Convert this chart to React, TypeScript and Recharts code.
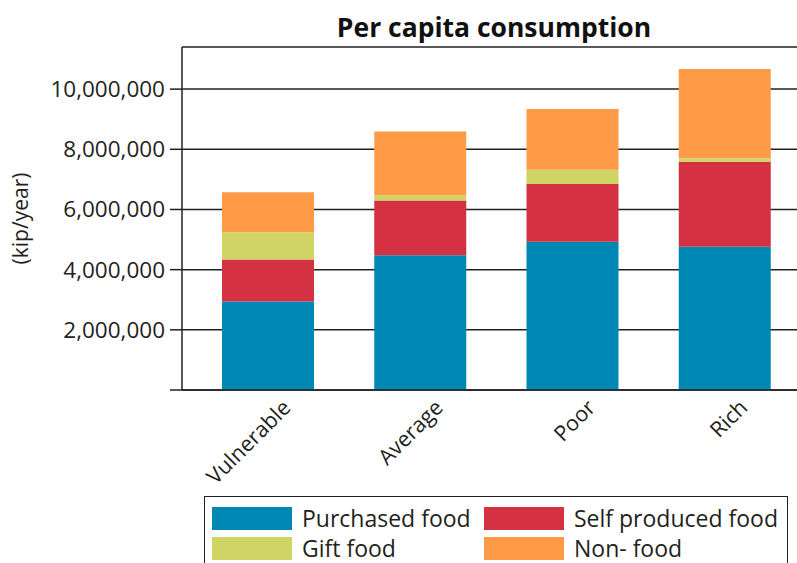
import React from 'react';
import { BarChart, Bar, XAxis, YAxis, CartesianGrid, Legend } from 'recharts';

const categories = ['Vulnerable', 'Average', 'Poor', 'Rich'];
const purchasedFood = [2940000, 4480000, 4930000, 4760000];
const selfProducedFood = [1400000, 1820000, 1920000, 2830000];
const giftFood = [900000, 170000, 470000, 110000];
const nonFood = [1330000, 2120000, 2020000, 2970000];
const yTicks = [0, 2000000, 4000000, 6000000, 8000000, 10000000];

const series = [
  { key: 'purchased', name: 'Purchased food', color: '#0088B4', values: purchasedFood },
  { key: 'selfProduced', name: 'Self produced food', color: '#D43142', values: selfProducedFood },
  { key: 'gift', name: 'Gift food', color: '#CFD464', values: giftFood },
  { key: 'nonFood', name: 'Non- food', color: '#FF9A47', values: nonFood },
];

const data = categories.map((cat, i) => {
  const row: any = { category: cat };
  series.forEach((s) => {
    row[s.key] = s.values[i];
  });
  return row;
});

const FONT = '"Open Sans", sans-serif';
const INK = '#231F20';

const XTick = ({ x, y, payload }: any) => (
  <text
    transform={`translate(${x + 24},${y + 11}) rotate(-45)`}
    textAnchor="end"
    fontSize={21.5}
    fontFamily={FONT}
    fill={INK}
  >
    {payload.value}
  </text>
);

const YLabel = ({ viewBox }: any) => {
  const cx = viewBox.x + 20;
  const cy = viewBox.y + viewBox.height / 2;
  return (
    <text
      x={cx}
      y={cy}
      transform={`rotate(-90, ${cx}, ${cy})`}
      textAnchor="middle"
      dominantBaseline="central"
      fontSize={21}
      fontFamily={FONT}
      fill={INK}
    >
      (kip/year)
    </text>
  );
};

const renderLegend = () => {
  const items = series.map((s) => ({ name: s.name, color: s.color }));
  return (
    <div
      style={{
        border: `1.5px solid ${INK}`,
        boxSizing: 'border-box',
        width: '100%',
        height: '100%',
        padding: '9px 0 0 7px',
        display: 'grid',
        gridTemplateColumns: '272px auto',
        gridAutoRows: '30px',
        fontFamily: FONT,
        fontSize: 23,
        color: INK,
      }}
    >
      {items.map((it) => (
        <div key={it.name} style={{ display: 'flex', alignItems: 'center', height: 24 }}>
          <span style={{ display: 'inline-block', width: 80, height: 23, background: it.color, marginRight: 10 }} />
          <span style={{ whiteSpace: 'nowrap', lineHeight: '24px' }}>{it.name}</span>
        </div>
      ))}
    </div>
  );
};

export default function App() {
  return (
    <div style={{ position: 'absolute', left: 0, top: 0, width: 797, height: 563, overflow: 'hidden', background: '#fff', fontFamily: FONT }}>
      <BarChart
        width={801}
        height={563}
        data={data}
        margin={{ top: 47, right: 0, bottom: 0, left: 0 }}
        barSize={92}
      >
        <CartesianGrid vertical={false} stroke="#222" strokeWidth={1.5} />
        <XAxis
          dataKey="category"
          height={173}
          padding={{ left: 10, right: 0 }}
          tickLine={false}
          axisLine={{ stroke: INK, strokeWidth: 1.5 }}
          tick={<XTick />}
          interval={0}
        />
        <YAxis
          width={182}
          domain={[0, 11400000]}
          ticks={yTicks}
          allowDataOverflow
          tickSize={12}
          tickMargin={5}
          tickLine={{ stroke: INK, strokeWidth: 1.5 }}
          axisLine={{ stroke: INK, strokeWidth: 1.5 }}
          tick={{ fontSize: 22.5, fill: INK, fontFamily: FONT }}
          tickFormatter={(v: number) => (v === 0 ? '' : v.toLocaleString('en-US'))}
          label={<YLabel />}
        />
        <Legend
          layout="horizontal"
          verticalAlign="middle"
          align="center"
          content={renderLegend}
          wrapperStyle={{ left: 204, top: 496, width: 584, height: 90 }}
        />
        {series.map((s) => (
          <Bar key={s.key} dataKey={s.key} name={s.name} stackId="a" fill={s.color} isAnimationActive={false} />
        ))}
      </BarChart>
      <svg width={797} height={60} style={{ position: 'absolute', left: 0, top: 0, pointerEvents: 'none' }}>
        <text x={494} y={36.5} textAnchor="middle" fontSize={26.5} fontWeight={700} fontFamily={FONT} fill="#111">
          Per capita consumption
        </text>
      </svg>
    </div>
  );
}
